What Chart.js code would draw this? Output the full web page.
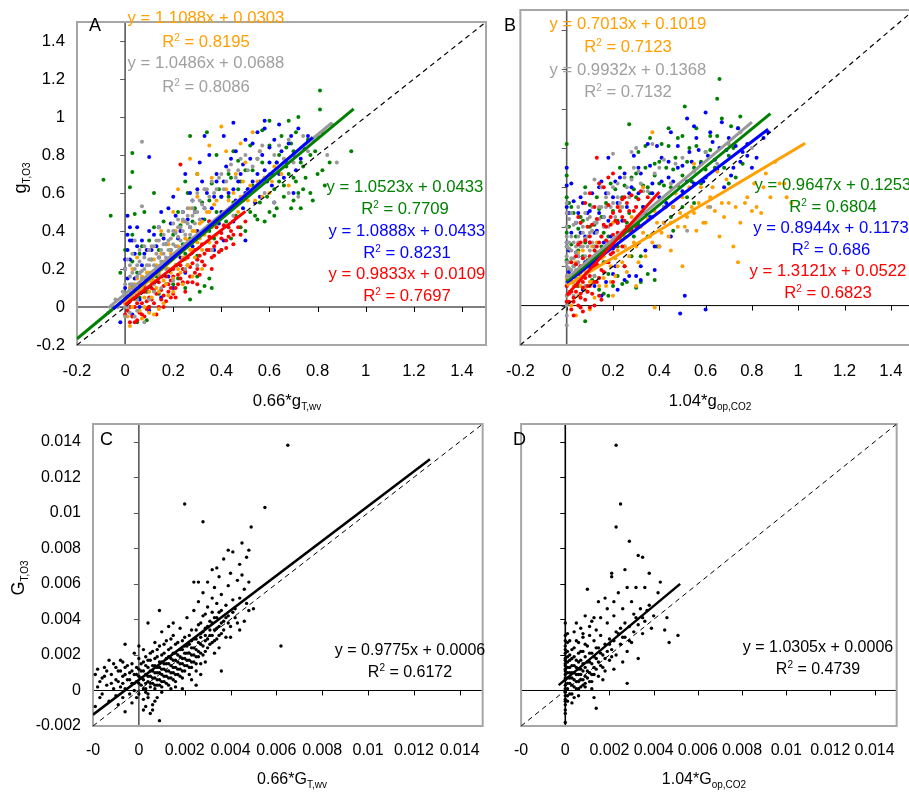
<!DOCTYPE html>
<html>
<head>
<meta charset="utf-8">
<script src="https://cdn.jsdelivr.net/npm/chart.js@4.4.1/dist/chart.umd.min.js"></script>
<style>
  body { margin: 0; width: 909px; height: 792px; overflow: hidden; background: #fff; position: relative;
         font-family: "Liberation Sans", Arial, sans-serif; color: #000; }
  canvas { position: absolute; }
  .t { position: absolute; white-space: nowrap; line-height: 16px; transform: translateX(-50%); }
  .big { font-size: 16.7px; }
  .small { font-size: 16px; }
  .lab { position: absolute; font-size: 18px; line-height: 18px; }
  .yt { position: absolute; white-space: nowrap; font-size: 18px; line-height: 18px; transform: translate(-50%, -50%) rotate(-90deg); }
  sub { font-size: 10px; vertical-align: -4px; line-height: 0; }
  sup { font-size: 10px; vertical-align: 6px; line-height: 0; }
  .or { color: #ffa000; } .gr { color: #a0a0a0; } .gn { color: #008000; } .bl { color: #0000ff; } .rd { color: #ff0000; }
</style>
</head>
<body>
<canvas id="chartA" width="490" height="420" style="left:0;top:0"></canvas>
<canvas id="chartB" width="430" height="420" style="left:490px;top:0"></canvas>
<canvas id="chartC" width="495" height="392" style="left:0;top:400px"></canvas>
<canvas id="chartD" width="410" height="392" style="left:499px;top:400px"></canvas>

<!-- panel letters -->
<div class="lab" style="left:89px;top:16px">A</div>
<div class="lab" style="left:504px;top:16px">B</div>
<div class="lab" style="left:100px;top:430px">C</div>
<div class="lab" style="left:513px;top:430px">D</div>

<!-- panel A equations -->
<div class="t big or" style="left:206px;top:10px">y = 1.1088x + 0.0303</div>
<div class="t big or" style="left:206px;top:34px">R<sup>2</sup> = 0.8195</div>
<div class="t big gr" style="left:206px;top:55px">y = 1.0486x + 0.0688</div>
<div class="t big gr" style="left:206px;top:79px">R<sup>2</sup> = 0.8086</div>
<div class="t big gn" style="left:405px;top:179px">y = 1.0523x + 0.0433</div>
<div class="t big gn" style="left:405px;top:201px">R<sup>2</sup> = 0.7709</div>
<div class="t big bl" style="left:407px;top:223px">y = 1.0888x + 0.0433</div>
<div class="t big bl" style="left:407px;top:245px">R<sup>2</sup> = 0.8231</div>
<div class="t big rd" style="left:407px;top:266px">y = 0.9833x + 0.0109</div>
<div class="t big rd" style="left:407px;top:288px">R<sup>2</sup> = 0.7697</div>

<!-- panel B equations -->
<div class="t big or" style="left:628px;top:16px">y = 0.7013x + 0.1019</div>
<div class="t big or" style="left:628px;top:39px">R<sup>2</sup> = 0.7123</div>
<div class="t big gr" style="left:628px;top:62px">y = 0.9932x + 0.1368</div>
<div class="t big gr" style="left:628px;top:84px">R<sup>2</sup> = 0.7132</div>
<div class="t big gn" style="left:833px;top:177px">y = 0.9647x + 0.1253</div>
<div class="t big gn" style="left:833px;top:199px">R<sup>2</sup> = 0.6804</div>
<div class="t big bl" style="left:831px;top:220px">y = 0.8944x + 0.1173</div>
<div class="t big bl" style="left:831px;top:242px">R<sup>2</sup> = 0.686</div>
<div class="t big rd" style="left:828px;top:263px">y = 1.3121x + 0.0522</div>
<div class="t big rd" style="left:828px;top:285px">R<sup>2</sup> = 0.6823</div>

<!-- panel C / D equations -->
<div class="t small" style="left:410px;top:642px">y = 0.9775x + 0.0006</div>
<div class="t small" style="left:410px;top:664px">R<sup>2</sup> = 0.6172</div>
<div class="t small" style="left:818px;top:639px">y = 1.0305x + 0.0006</div>
<div class="t small" style="left:818px;top:661px">R<sup>2</sup> = 0.4739</div>

<!-- axis titles -->
<div class="t big" style="left:287px;top:393px">0.66*g<sub>T,wv</sub></div>
<div class="t big" style="left:710px;top:393px">1.04*g<sub>op,CO2</sub></div>
<div class="t small" style="left:292px;top:771px">0.66*G<sub>T,wv</sub></div>
<div class="t small" style="left:704px;top:771px">1.04*G<sub>op,CO2</sub></div>
<div class="yt" style="left:20px;top:178px">g<sub>T,O3</sub></div>
<div class="yt" style="left:18px;top:578px">G<sub>T,O3</sub></div>

<script>
// ---- tick values / labels ----
const abTicks = [-0.2, 0, 0.2, 0.4, 0.6, 0.8, 1, 1.2, 1.4];
const abTickLabels = ["-0.2", "0", "0.2", "0.4", "0.6", "0.8", "1", "1.2", "1.4"];
const cdTicks = [-0.002, 0, 0.002, 0.004, 0.006, 0.008, 0.01, 0.012, 0.014];
const cdXTickLabels = ["-0", "0", "0.002", "0.004", "0.006", "0.008", "0.01", "0.012", "0.014"];
const cdYTickLabels = ["-0.002", "0", "0.002", "0.004", "0.006", "0.008", "0.01", "0.012", "0.014"];

// ---- panel A points (0.66*gT,wv , gT,O3) ----
const aGreen = [[-0.09,0.67],[-0.06,0.48],[0.03,0.81],[0.03,0.71],[0.02,0.63],[0.04,0.49],[0.03,0.38],[0.06,0.28],[0.08,0.15],[0.1,0.35],[0.12,0.42],[0.14,0.3],[0.16,0.45],[0.18,0.25],[0.2,0.38],[0.22,0.5],[0.24,0.33],[0.26,0.6],[0.27,0.9],[0.28,0.45],[0.3,0.27],[0.32,0.55],[0.34,0.92],[0.35,0.4],[0.36,0.65],[0.38,0.5],[0.4,0.58],[0.42,0.45],[0.43,0.7],[0.45,0.55],[0.47,0.62],[0.48,0.42],[0.5,0.72],[0.52,0.5],[0.53,0.64],[0.55,0.78],[0.56,0.55],[0.58,0.68],[0.6,0.85],[0.6,0.5],[0.62,0.62],[0.63,0.76],[0.65,0.9],[0.66,0.58],[0.68,0.7],[0.7,0.82],[0.72,1.0],[0.72,0.6],[0.74,0.74],[0.76,0.88],[0.78,0.56],[0.8,0.7],[0.81,1.14],[0.81,1.04],[0.83,0.64],[0.94,0.82],[0.05,-0.08],[0.1,0.0],[0.14,0.07],[0.2,0.12],[0.25,0.1],[0.3,0.16],[0.33,0.11],[0.36,0.1],[0.4,0.3],[0.44,0.36],[0.5,0.4],[0.55,0.46],[0.58,0.45],[0.62,0.48],[0.69,0.52],[0.52,0.85],[0.45,0.82],[0.38,0.8],[0.3,0.7],[0.25,0.66],[0.12,0.6],[0.08,0.5],[0.0,0.3],[-0.02,0.18],[0.02,0.1],[0.06,0.05],[0.71,0.92],[0.77,0.8],[0.67,0.84],[0.57,0.93],[0.47,0.77],[0.73,0.52],[0.85,0.76],[0.18,0.2],[0.22,0.15],[0.26,0.22],[0.64,0.66],[0.7,0.68],
  [0.01,0.05],[0.03,0.24],[0.05,0.18],[0.07,0.32],[0.09,0.08],[0.11,0.25],[0.13,0.16],[0.15,0.38],[0.17,0.12],[0.19,0.3],[0.21,0.22],[0.23,0.43],[0.25,0.28],[0.27,0.36],[0.29,0.52],[0.31,0.38],[0.33,0.46],[0.35,0.56],[0.37,0.36],[0.39,0.62],[0.41,0.5],[0.43,0.58],[0.44,0.68],[0.46,0.48],[0.48,0.66],[0.49,0.56],[0.51,0.62],[0.53,0.72],[0.54,0.48],[0.56,0.66],[0.57,0.76],[0.59,0.58],[0.61,0.7],[0.63,0.52],[0.64,0.8],[0.66,0.64],[0.67,0.74],[0.69,0.86],[0.71,0.66],[0.73,0.76],[0.75,0.68],[0.77,0.6],[0.79,0.82],[0.82,0.72],[0.6,0.98],[0.68,0.98],[0.7,0.56],[0.74,0.62],[0.35,0.15],[0.31,0.08],[0.27,0.04],[0.09,-0.07]];
const aBlue = [[-0.02,-0.08],[0.0,0.2],[0.01,0.48],[0.02,0.25],[0.03,0.35],[0.04,0.15],[0.05,0.42],[0.07,0.22],[0.09,0.3],[0.1,0.79],[0.11,0.15],[0.12,0.38],[0.14,0.26],[0.15,0.5],[0.17,0.33],[0.19,0.44],[0.2,0.58],[0.22,0.36],[0.24,0.5],[0.25,0.7],[0.27,0.42],[0.28,0.56],[0.3,0.62],[0.31,0.76],[0.32,0.46],[0.34,0.6],[0.35,0.8],[0.36,0.52],[0.38,0.66],[0.39,0.44],[0.4,0.58],[0.42,0.74],[0.43,0.5],[0.45,0.62],[0.46,0.82],[0.48,0.7],[0.49,0.52],[0.5,0.6],[0.52,0.78],[0.53,0.66],[0.55,0.92],[0.56,0.58],[0.58,0.72],[0.58,0.94],[0.6,0.84],[0.61,0.64],[0.63,0.76],[0.64,0.96],[0.66,0.68],[0.68,0.86],[0.7,0.8],[0.7,0.6],[0.72,0.94],[0.74,0.84],[0.76,0.9],[0.5,0.35],[0.45,0.45],[0.41,0.35],[0.37,0.3],[0.3,0.25],[0.25,0.18],[0.2,0.1],[0.15,0.05],[0.1,-0.02],[0.06,0.04],[0.33,0.9],[0.45,0.97],[0.58,0.98],[0.62,0.55],[0.08,0.1],[0.13,0.2],[0.18,0.16],[0.23,0.26],[0.28,0.32],[0.01,0.3],[0.0,0.1],
  [0.0,0.25],[0.01,0.15],[0.02,0.35],[0.03,0.05],[0.04,0.28],[0.06,0.18],[0.07,0.35],[0.08,0.28],[0.1,0.4],[0.11,0.3],[0.13,0.32],[0.14,0.42],[0.16,0.36],[0.18,0.52],[0.19,0.26],[0.21,0.48],[0.23,0.4],[0.24,0.3],[0.26,0.46],[0.27,0.6],[0.29,0.5],[0.3,0.4],[0.32,0.66],[0.33,0.52],[0.35,0.45],[0.37,0.58],[0.38,0.7],[0.4,0.5],[0.41,0.66],[0.43,0.6],[0.44,0.78],[0.46,0.56],[0.47,0.66],[0.49,0.75],[0.51,0.62],[0.53,0.86],[0.54,0.55],[0.55,0.7],[0.57,0.8],[0.59,0.66],[0.6,0.76],[0.62,0.88],[0.64,0.7],[0.65,0.82],[0.67,0.76],[0.69,0.9],[0.71,0.72],[0.73,0.78],[0.5,0.88],[0.41,0.9],[0.02,0.42],[0.01,0.38],[0.05,0.32],[0.03,-0.04],[0.06,0.0]];
const aRed = [[0.01,-0.02],[0.02,0.03],[0.03,-0.05],[0.04,0.0],[0.05,0.06],[0.06,-0.03],[0.07,0.02],[0.08,0.08],[0.09,-0.01],[0.1,0.05],[0.11,0.1],[0.12,0.02],[0.13,0.07],[0.14,0.13],[0.15,0.04],[0.16,0.11],[0.17,0.16],[0.18,0.08],[0.19,0.14],[0.2,0.2],[0.21,0.1],[0.22,0.17],[0.23,0.22],[0.24,0.13],[0.25,0.19],[0.26,0.26],[0.27,0.16],[0.28,0.23],[0.29,0.3],[0.3,0.2],[0.31,0.27],[0.32,0.33],[0.33,0.22],[0.34,0.3],[0.35,0.37],[0.36,0.26],[0.37,0.32],[0.38,0.42],[0.39,0.29],[0.4,0.36],[0.41,0.43],[0.42,0.35],[0.43,0.37],[0.44,0.4],[0.46,0.47],[0.48,0.38],[0.23,0.75],[0.13,-0.04],[0.05,-0.07],[0.09,0.14],[0.15,0.2],[0.19,0.05],[0.2,0.07],[0.22,0.12],[0.03,0.1],[0.0,0.02],[0.02,-0.08],[0.08,-0.05],[0.12,0.17],[0.17,0.03],[0.22,0.28],[0.3,0.12],[0.36,0.2],[0.45,0.33],[0.4,0.3],[0.35,0.45],[0.06,0.12],
  [0.02,0.0],[0.03,0.05],[0.05,0.02],[0.06,0.08],[0.07,-0.04],[0.08,0.11],[0.1,0.0],[0.11,0.04],[0.12,0.09],[0.14,0.0],[0.15,0.09],[0.16,0.06],[0.18,0.12],[0.2,0.16],[0.21,0.05],[0.23,0.15],[0.24,0.2],[0.26,0.13],[0.27,0.21],[0.29,0.18],[0.3,0.25],[0.32,0.24],[0.33,0.28],[0.35,0.3],[0.37,0.27],[0.38,0.34],[0.4,0.39],[0.42,0.31],[0.43,0.42],[0.45,0.38],[0.47,0.42],[0.5,0.45],[0.16,0.0],[0.19,0.1],[0.25,0.08],[0.28,0.13],[0.31,0.17],[0.04,-0.08],[0.09,0.03],[0.0,-0.04]];
const aOrange = [[0.0,0.02],[0.01,-0.05],[0.02,0.1],[0.03,0.2],[0.04,0.04],[0.05,0.15],[0.06,-0.02],[0.07,0.1],[0.08,0.05],[0.09,0.18],[0.1,0.08],[0.11,0.13],[0.12,0.25],[0.13,0.1],[0.14,0.18],[0.15,0.28],[0.16,0.14],[0.17,0.22],[0.18,0.33],[0.19,0.18],[0.2,0.26],[0.21,0.4],[0.22,0.2],[0.23,0.3],[0.24,0.45],[0.25,0.25],[0.26,0.35],[0.27,0.52],[0.28,0.3],[0.29,0.4],[0.3,0.58],[0.31,0.36],[0.32,0.45],[0.33,0.62],[0.34,0.4],[0.35,0.5],[0.36,0.68],[0.37,0.44],[0.38,0.56],[0.4,0.95],[0.4,0.48],[0.42,0.62],[0.44,0.52],[0.46,0.7],[0.48,0.58],[0.5,0.76],[0.52,0.64],[0.53,0.92],[0.54,0.56],[0.56,0.82],[0.58,0.68],[0.6,0.6],[0.62,0.74],[0.65,0.7],[0.27,0.78],[0.22,0.62],[0.35,0.85],[0.15,0.4],[0.1,0.3],[0.05,0.26],[0.12,-0.04],[0.16,0.02],[0.2,0.08],[0.24,0.12],[0.28,0.16],[0.32,0.2],[0.36,0.3],[0.02,-0.1],
  [0.01,0.05],[0.03,0.0],[0.04,0.12],[0.06,0.08],[0.07,0.16],[0.08,0.0],[0.09,0.1],[0.1,0.18],[0.11,0.05],[0.12,0.14],[0.13,0.22],[0.14,0.08],[0.15,0.16],[0.16,0.24],[0.17,0.12],[0.18,0.2],[0.19,0.28],[0.2,0.15],[0.21,0.22],[0.22,0.32],[0.23,0.18],[0.24,0.26],[0.25,0.36],[0.26,0.22],[0.27,0.3],[0.28,0.4],[0.29,0.26],[0.3,0.34],[0.31,0.44],[0.32,0.3],[0.33,0.38],[0.34,0.5],[0.35,0.34],[0.36,0.42],[0.37,0.54],[0.38,0.38],[0.39,0.46],[0.41,0.5],[0.43,0.56],[0.45,0.6],[0.47,0.5],[0.49,0.66],[0.51,0.56],[0.55,0.66],[0.57,0.58],[0.61,0.66],[0.66,0.78],[0.68,0.64],[0.3,0.7],[0.2,0.5],[0.42,0.82],[0.48,0.86],[0.07,-0.06],[0.1,-0.03],[0.14,-0.01],[0.18,0.06]];
const aGray = [[-0.07,-0.03],[-0.05,0.0],[-0.04,0.04],[-0.02,0.02],[-0.01,0.08],[0.0,0.05],[0.0,0.12],[0.01,0.0],[0.02,0.08],[0.02,0.16],[0.03,0.05],[0.03,0.12],[0.04,0.2],[0.05,0.1],[0.05,0.16],[0.06,0.24],[0.07,0.12],[0.07,0.19],[0.08,0.26],[0.09,0.15],[0.09,0.22],[0.1,0.3],[0.11,0.18],[0.11,0.25],[0.12,0.32],[0.13,0.2],[0.13,0.28],[0.14,0.35],[0.15,0.24],[0.15,0.3],[0.16,0.38],[0.17,0.26],[0.17,0.33],[0.18,0.4],[0.19,0.3],[0.19,0.36],[0.2,0.44],[0.21,0.32],[0.21,0.39],[0.22,0.46],[0.23,0.35],[0.23,0.42],[0.24,0.5],[0.25,0.38],[0.25,0.45],[0.26,0.52],[0.27,0.42],[0.28,0.48],[0.28,0.56],[0.3,0.5],[0.3,0.6],[0.32,0.54],[0.33,0.62],[0.35,0.58],[0.36,0.66],[0.38,0.62],[0.4,0.7],[0.42,0.66],[0.44,0.75],[0.47,0.72],[0.5,0.8],[0.53,0.74],[0.56,0.82],[0.6,0.7],[0.64,0.85],[0.7,0.76],[0.74,0.9],[0.78,0.88],[0.82,0.92],[0.86,0.96],[0.84,0.8],[0.88,0.76],[0.07,0.87],[0.07,0.53],[0.36,0.3],[0.3,0.22],[0.25,0.2],[0.2,0.14],[0.15,0.1],[0.1,0.04],[0.05,-0.02],[0.08,-0.08],[0.04,-0.05],[0.12,0.08],[0.62,0.55],[0.68,0.6],[0.72,0.58],[0.58,0.6],[0.45,0.48],[0.06,0.18],[0.1,0.22],[0.14,0.26],
  [0.0,0.0],[0.01,0.06],[0.02,0.12],[0.03,0.18],[0.04,0.1],[0.05,0.22],[0.06,0.08],[0.07,0.15],[0.08,0.2],[0.08,0.32],[0.09,0.1],[0.1,0.17],[0.1,0.25],[0.11,0.32],[0.12,0.12],[0.12,0.22],[0.13,0.35],[0.14,0.17],[0.14,0.42],[0.15,0.2],[0.16,0.28],[0.16,0.33],[0.17,0.2],[0.18,0.3],[0.18,0.35],[0.19,0.25],[0.2,0.33],[0.2,0.4],[0.21,0.27],[0.22,0.37],[0.22,0.42],[0.23,0.3],[0.24,0.4],[0.24,0.46],[0.25,0.33],[0.26,0.44],[0.26,0.48],[0.27,0.38],[0.28,0.52],[0.29,0.44],[0.29,0.5],[0.31,0.56],[0.31,0.46],[0.33,0.52],[0.34,0.62],[0.37,0.6],[0.39,0.68],[0.41,0.62],[0.43,0.72],[0.46,0.68],[0.48,0.78],[0.51,0.72],[0.55,0.78],[0.57,0.85],[0.62,0.8],[0.66,0.78],[0.68,0.88],[0.76,0.82],[0.8,0.9],[-0.03,0.0],[-0.06,-0.02],[0.0,0.2],[0.01,0.25],[0.03,0.28],[0.0,-0.05],[0.02,-0.03],[0.05,0.04],[0.06,0.3],[0.04,0.35],[0.02,0.22]];

// ---- panel B points (1.04*gop,CO2 , gT,O3) ----
const bGreen = [[0.0,0.82],[0.0,0.55],[0.01,0.4],[0.0,0.3],[0.02,0.5],[0.03,0.2],[0.04,0.35],[0.05,0.1],[0.06,0.45],[0.07,0.25],[0.08,0.6],[0.1,0.18],[0.1,0.4],[0.12,0.3],[0.13,0.55],[0.14,0.08],[0.15,0.45],[0.16,0.22],[0.18,0.35],[0.19,0.62],[0.2,0.1],[0.2,0.48],[0.22,0.3],[0.23,0.7],[0.24,0.55],[0.25,0.2],[0.26,0.42],[0.27,0.92],[0.28,0.65],[0.29,0.35],[0.3,0.55],[0.31,0.78],[0.32,0.25],[0.33,0.5],[0.34,0.7],[0.35,0.6],[0.36,0.85],[0.37,0.45],[0.38,0.72],[0.39,0.3],[0.4,0.62],[0.41,0.82],[0.42,0.5],[0.43,0.7],[0.44,0.9],[0.45,0.6],[0.46,0.38],[0.47,0.75],[0.48,0.85],[0.5,0.66],[0.51,1.01],[0.52,0.55],[0.53,0.8],[0.55,0.7],[0.56,0.9],[0.58,0.62],[0.6,0.78],[0.62,0.86],[0.64,0.7],[0.65,1.05],[0.66,1.15],[0.67,0.95],[0.7,0.62],[0.72,0.8],[0.74,0.9],[0.76,0.72],[0.08,-0.08],[0.12,0.15],[0.18,0.05],[0.26,0.12],[0.32,0.12],[0.35,0.35],[0.28,0.25],[0.22,0.15],[0.15,0.3],[0.05,0.28],[0.02,0.15],[0.45,0.45],[0.5,0.5],[0.55,0.52],[0.68,0.7],[0.73,0.65],
  [0.0,0.23],[0.0,0.37],[0.0,0.66],[0.01,0.13],[0.01,0.52],[0.02,0.31],[0.03,0.47],[0.04,0.21],[0.05,0.39],[0.06,0.17],[0.07,0.43],[0.08,0.32],[0.09,0.23],[0.1,0.51],[0.11,0.13],[0.12,0.41],[0.13,0.27],[0.14,0.49],[0.16,0.37],[0.17,0.52],[0.18,0.16],[0.2,0.31],[0.21,0.59],[0.22,0.43],[0.24,0.37],[0.25,0.61],[0.27,0.47],[0.29,0.59],[0.3,0.67],[0.31,0.41],[0.33,0.61],[0.34,0.81],[0.36,0.57],[0.38,0.66],[0.4,0.73],[0.42,0.61],[0.44,0.81],[0.46,0.69],[0.48,0.61],[0.5,0.86],[0.52,0.73],[0.54,0.63],[0.56,0.81],[0.58,0.73],[0.6,0.69],[0.62,0.79],[0.65,0.86],[0.7,0.76],[0.71,0.91],[0.75,0.96],[0.35,0.16],[0.38,0.13],[0.3,0.09],[0.24,0.11],[0.16,0.06]];
const bBlue = [[0.0,0.5],[0.0,0.7],[0.01,0.28],[0.02,0.62],[0.03,0.15],[0.04,0.42],[0.05,0.25],[0.06,0.55],[0.07,0.08],[0.08,0.35],[0.1,0.2],[0.1,0.48],[0.12,0.1],[0.13,0.38],[0.14,0.6],[0.15,0.25],[0.16,0.45],[0.17,0.12],[0.18,0.75],[0.19,0.35],[0.2,0.55],[0.21,0.2],[0.22,0.42],[0.23,0.65],[0.25,0.3],[0.26,0.5],[0.27,0.15],[0.28,0.6],[0.3,0.4],[0.31,0.7],[0.32,0.2],[0.33,0.5],[0.35,0.82],[0.36,0.45],[0.37,0.62],[0.38,0.3],[0.4,0.55],[0.41,0.75],[0.42,0.42],[0.44,0.65],[0.45,0.88],[0.46,0.5],[0.48,0.7],[0.49,-0.04],[0.5,0.58],[0.51,0.05],[0.52,0.95],[0.53,0.78],[0.55,0.62],[0.56,0.85],[0.58,0.72],[0.6,-0.02],[0.6,0.65],[0.62,0.88],[0.64,0.74],[0.66,0.8],[0.68,0.6],[0.7,0.85],[0.72,0.7],[0.74,0.9],[0.76,0.78],[0.78,0.82],[0.8,0.7],[0.82,0.75],[0.85,0.85],[0.87,0.88],[0.6,0.98],[0.45,0.35],[0.38,0.18],[0.3,0.15],[0.22,0.08],[0.15,0.05],[0.34,0.28],[0.4,0.3],
  [0.0,0.32],[0.0,0.61],[0.01,0.17],[0.01,0.47],[0.02,0.37],[0.03,0.53],[0.04,0.27],[0.05,0.47],[0.06,0.37],[0.07,0.52],[0.08,0.22],[0.09,0.47],[0.1,0.32],[0.11,0.57],[0.12,0.37],[0.13,0.23],[0.14,0.47],[0.15,0.63],[0.16,0.32],[0.17,0.57],[0.18,0.43],[0.2,0.29],[0.21,0.63],[0.22,0.52],[0.24,0.43],[0.25,0.67],[0.27,0.57],[0.28,0.39],[0.29,0.76],[0.31,0.57],[0.32,0.67],[0.34,0.47],[0.36,0.71],[0.37,0.57],[0.39,0.81],[0.41,0.63],[0.43,0.52],[0.44,0.73],[0.46,0.63],[0.48,0.81],[0.5,0.71],[0.52,0.63],[0.54,0.73],[0.55,0.91],[0.57,0.79],[0.59,0.63],[0.61,0.76],[0.63,0.83],[0.65,0.69],[0.67,0.93],[0.69,0.79],[0.71,0.66],[0.73,0.81],[0.75,0.73],[0.78,0.76],[0.25,0.13],[0.32,0.13],[0.2,0.16]];
const bRed = [[0.0,0.02],[0.01,0.06],[0.02,-0.02],[0.02,0.12],[0.03,0.04],[0.04,0.1],[0.05,0.0],[0.05,0.16],[0.06,0.06],[0.07,0.12],[0.08,0.2],[0.08,0.03],[0.09,0.1],[0.1,0.25],[0.1,0.15],[0.11,0.06],[0.12,0.2],[0.13,0.3],[0.13,0.12],[0.14,0.24],[0.15,0.35],[0.15,0.18],[0.16,0.28],[0.17,0.4],[0.17,0.22],[0.18,0.32],[0.19,0.45],[0.19,0.26],[0.2,0.36],[0.21,0.3],[0.22,0.42],[0.22,0.5],[0.23,0.35],[0.24,0.45],[0.25,0.55],[0.26,0.4],[0.27,0.48],[0.28,0.56],[0.3,0.5],[0.32,0.58],[0.35,0.55],[0.04,0.25],[0.06,0.32],[0.09,0.4],[0.12,0.5],[0.16,0.6],[0.13,0.75],[0.18,0.65],[0.25,0.2],[0.2,0.12],[0.14,0.05],[0.03,-0.05],[0.07,-0.03],[0.12,0.0],[0.06,0.2],[0.24,0.3],[0.3,0.4],[0.05,0.45],[0.1,0.35],[0.28,0.38],
  [0.0,0.1],[0.01,0.02],[0.01,0.14],[0.02,0.07],[0.02,0.22],[0.03,0.02],[0.03,0.16],[0.04,0.07],[0.04,0.21],[0.05,0.12],[0.05,0.31],[0.06,0.04],[0.06,0.17],[0.07,0.09],[0.07,0.24],[0.08,0.14],[0.08,0.33],[0.09,0.07],[0.09,0.21],[0.1,0.1],[0.1,0.32],[0.11,0.22],[0.11,0.41],[0.12,0.12],[0.12,0.28],[0.13,0.21],[0.13,0.44],[0.14,0.32],[0.14,0.14],[0.15,0.27],[0.16,0.41],[0.16,0.17],[0.17,0.33],[0.18,0.51],[0.18,0.22],[0.19,0.41],[0.2,0.27],[0.2,0.47],[0.21,0.43],[0.22,0.37],[0.23,0.48],[0.24,0.54],[0.25,0.43],[0.26,0.52],[0.27,0.38],[0.29,0.48],[0.31,0.54],[0.33,0.47],[0.06,0.42],[0.08,0.52],[0.1,0.57],[0.14,0.62],[0.2,0.67],[0.06,-0.01],[0.1,-0.01],[0.15,0.03]];
const bOrange = [[0.0,0.05],[0.01,0.15],[0.02,0.0],[0.03,0.1],[0.04,0.22],[0.05,0.05],[0.06,0.15],[0.07,0.28],[0.08,0.08],[0.09,0.2],[0.1,0.12],[0.11,0.3],[0.12,0.04],[0.13,0.2],[0.14,0.14],[0.15,0.35],[0.16,0.25],[0.17,0.1],[0.18,0.3],[0.19,0.2],[0.2,0.42],[0.21,0.15],[0.22,0.28],[0.23,0.5],[0.24,0.22],[0.25,0.35],[0.27,0.25],[0.28,0.45],[0.3,0.3],[0.32,0.4],[0.33,0.6],[0.34,0.25],[0.36,0.35],[0.37,0.88],[0.38,-0.01],[0.38,0.48],[0.4,0.3],[0.42,0.42],[0.44,0.35],[0.46,0.5],[0.48,0.4],[0.5,0.55],[0.52,0.45],[0.54,0.5],[0.56,0.38],[0.58,0.6],[0.6,0.42],[0.62,0.55],[0.64,0.48],[0.66,0.35],[0.68,0.45],[0.7,0.52],[0.72,0.3],[0.74,0.22],[0.75,0.42],[0.78,0.55],[0.8,0.48],[0.82,0.5],[0.85,0.6],[0.88,0.55],[0.9,0.73],[0.92,0.62],[0.95,0.55],[0.97,0.52],[0.65,0.68],[0.55,0.72],[0.45,0.28],[0.5,0.2],[0.3,0.1],[0.2,0.05],[0.1,-0.02],[0.04,-0.05],
  [0.0,0.14],[0.01,0.07],[0.02,0.22],[0.03,0.04],[0.04,0.14],[0.05,0.27],[0.06,0.1],[0.07,0.2],[0.08,0.17],[0.09,0.07],[0.1,0.24],[0.11,0.12],[0.12,0.2],[0.13,0.32],[0.14,0.1],[0.15,0.24],[0.16,0.14],[0.17,0.3],[0.18,0.22],[0.19,0.12],[0.2,0.32],[0.21,0.24],[0.22,0.2],[0.23,0.34],[0.25,0.3],[0.26,0.17],[0.27,0.4],[0.29,0.32],[0.31,0.22],[0.33,0.37],[0.35,0.44],[0.37,0.32],[0.39,0.42],[0.41,0.37],[0.43,0.5],[0.45,0.42],[0.47,0.57],[0.49,0.47],[0.51,0.4],[0.53,0.6],[0.55,0.47],[0.57,0.52],[0.59,0.42],[0.61,0.5],[0.63,0.6],[0.67,0.52],[0.69,0.64],[0.73,0.5],[0.77,0.52],[0.81,0.62],[0.84,0.47],[0.86,0.67],[0.94,0.62]];
const bGray = [[0.0,0.0],[0.0,0.05],[0.0,0.1],[0.0,0.15],[0.0,0.2],[0.0,0.25],[0.0,0.3],[0.0,0.35],[0.0,0.4],[0.0,-0.05],[0.0,-0.1],[0.01,0.12],[0.01,0.22],[0.01,0.32],[0.02,0.18],[0.02,0.28],[0.03,0.12],[0.03,0.24],[0.04,0.3],[0.04,0.18],[0.05,0.25],[0.05,0.35],[0.06,0.2],[0.07,0.3],[0.07,0.4],[0.08,0.25],[0.09,0.35],[0.1,0.28],[0.1,0.45],[0.11,0.38],[0.12,0.3],[0.13,0.42],[0.14,0.5],[0.15,0.35],[0.16,0.45],[0.17,0.55],[0.18,0.4],[0.19,0.5],[0.2,0.6],[0.21,0.45],[0.22,0.55],[0.24,0.5],[0.25,0.65],[0.27,0.55],[0.29,0.7],[0.3,0.5],[0.32,0.62],[0.35,0.58],[0.4,0.7],[0.45,0.62],[0.5,0.75],[0.55,0.68],[0.52,0.38],[0.6,0.78],[0.65,0.72],[0.7,0.82],[0.75,0.88],[0.8,0.8],[0.37,0.82],[0.28,0.78],[0.15,0.6],[0.05,0.5],[0.08,0.1],[0.12,0.15],[0.03,0.05],
  [0.0,0.47],[0.0,0.52],[0.0,0.02],[0.0,0.12],[0.0,0.22],[0.0,0.32],[0.01,0.07],[0.01,0.19],[0.01,0.29],[0.01,0.44],[0.02,0.12],[0.02,0.24],[0.02,0.35],[0.02,0.47],[0.03,0.2],[0.03,0.32],[0.03,0.41],[0.04,0.14],[0.04,0.27],[0.04,0.42],[0.05,0.22],[0.05,0.32],[0.06,0.3],[0.06,0.42],[0.07,0.24],[0.07,0.37],[0.08,0.34],[0.08,0.47],[0.09,0.3],[0.09,0.44],[0.1,0.37],[0.11,0.32],[0.11,0.5],[0.12,0.42],[0.13,0.37],[0.14,0.44],[0.15,0.5],[0.16,0.4],[0.17,0.5],[0.18,0.57],[0.2,0.52],[0.22,0.62],[0.23,0.52],[0.26,0.6],[0.28,0.64],[0.31,0.68],[0.33,0.58],[0.38,0.67],[0.42,0.74],[0.47,0.72],[0.2,0.77],[0.12,0.64],[0.08,0.57],[0.3,0.8],[0.42,0.5],[0.62,0.5]];

// ---- panel C points (0.66*GT,wv , GT,O3) ----
const cPoints = [[-0.0019,-0.0009],[-0.0018,0.0012],[-0.0017,0.0005],[-0.0016,-0.0002],[-0.0015,0.0013],[-0.0014,0.0003],[-0.0013,-0.0006],[-0.0012,0.0009],[-0.0011,0.0001],[-0.0011,0.0015],[-0.001,-0.0003],[-0.001,0.0006],[-0.0009,0.0011],[-0.0009,-0.0008],[-0.0008,0.0002],[-0.0008,0.0017],[-0.0007,0.0008],[-0.0007,-0.0004],[-0.0006,0.0013],[-0.0006,0.0001],[-0.0006,0.0026],[-0.0006,-0.0012],[-0.0005,0.0006],[-0.0004,0.001],[-0.0004,-0.0002],[-0.0003,0.0015],[-0.0003,0.0004],[-0.0003,-0.0007],[-0.0002,0.0021],[-0.0002,0.0009],[-0.0002,0.0],[-0.0001,0.0013],[-0.0001,0.0005],[-0.0001,-0.0004],[0.0,0.0018],[0.0,0.0008],[0.0,-0.0002],[-0.0013,0.0017],[-0.0017,-0.0004],[-0.0007,0.0004],[-0.0015,0.0008],
  [0.0001,0.0003],[0.0001,0.0011],[0.0002,-0.0005],[0.0002,0.0006],[0.0002,0.0016],[0.0003,0.0001],[0.0003,0.0009],[0.0003,0.0019],[0.0004,-0.0002],[0.0004,0.0005],[0.0004,0.0013],[0.0005,0.0002],[0.0005,0.0008],[0.0005,0.0017],[0.0006,-0.0008],[0.0006,0.0004],[0.0006,0.0011],[0.0006,0.0022],[0.0007,0.0001],[0.0007,0.0007],[0.0007,0.0014],[0.0008,0.0003],[0.0008,0.001],[0.0008,0.0019],[0.0008,-0.0004],[0.0009,0.0006],[0.0009,0.0013],[0.0009,0.0025],[0.001,0.0002],[0.001,0.0009],[0.001,0.0016],[0.0011,0.0005],[0.0011,0.0012],[0.0011,0.0021],[0.0012,0.0008],[0.0012,0.0015],[0.0012,0.0028],[0.0013,0.0003],[0.0013,0.0011],[0.0013,0.0019],[0.0014,0.0007],[0.0014,0.0014],[0.0014,0.0024],[0.0015,0.001],[0.0015,0.0017],[0.0015,0.0031],[0.0016,0.0005],[0.0016,0.0013],[0.0016,0.0021],[0.0017,0.0009],[0.0017,0.0016],[0.0017,0.0027],[0.0018,0.0012],[0.0018,0.0019],[0.0018,0.0035],[0.0019,0.0007],[0.0019,0.0015],[0.0019,0.0023],[0.002,0.0011],[0.002,0.0018],[0.002,0.003],[0.0021,0.0014],[0.0021,0.0021],[0.0021,0.0041],[0.0022,0.0009],[0.0022,0.0017],[0.0022,0.0026],[0.0023,0.0013],[0.0023,0.002],[0.0023,0.0034],[0.0024,0.0016],[0.0024,0.0024],[0.0024,0.0045],[0.0025,0.0011],[0.0025,0.0019],[0.0025,0.0029],[0.0026,0.0022],[0.0026,0.0037],[0.0026,0.005],[0.0027,0.0015],[0.0027,0.0026],[0.0027,0.0032],[0.0028,0.002],[0.0028,0.0042],[0.0028,0.0055],[0.0029,0.0028],[0.0029,0.0035],[0.003,0.0024],[0.003,0.0047],[0.003,0.0061],[0.0031,0.0031],[0.0031,0.0039],[0.0032,0.0027],[0.0032,0.0044],[0.0032,0.0052],[0.0033,0.0034],[0.0033,0.0058],[0.0034,0.0029],[0.0034,0.0041],[0.0034,0.0049],[0.0035,0.0036],[0.0035,0.0064],[0.0036,0.0032],[0.0036,0.0045],[0.0036,0.0054],[0.0037,0.0039],[0.0037,0.0074],[0.0038,0.003],[0.0038,0.0048],[0.0039,0.0059],[0.0039,0.0042],[0.004,0.0066],[0.004,0.0036],[0.0041,0.0051],[0.0041,0.0078],[0.0042,0.0046],[0.0043,0.0062],[0.0043,0.0038],[0.0044,0.0071],[0.0044,0.0052],[0.0045,0.0083],[0.0045,0.0065],[0.0046,0.0057],[0.0046,0.0039],[0.0047,0.0075],[0.0047,0.0049],[0.0048,0.0061],[0.0048,0.0079],[0.005,0.0046],[0.0049,0.0092],[0.0055,0.0103],[0.0065,0.0138],[0.002,0.0105],[0.0028,0.0095],[0.0062,0.0025],[0.0036,0.0011],[0.0004,0.0038],[0.0009,0.0045],[0.0009,-0.0017],[0.0005,-0.0013],[0.0002,-0.0011],[0.0007,-0.0006],[0.0003,-0.0001],[0.0014,0.0001],[0.001,-0.0001],[0.0016,0.0002],[0.0019,0.0001],[0.0025,0.0003],[0.0033,0.0021],[0.0029,0.0016],[0.0023,0.0006],[0.0027,0.0009],[0.0035,0.0024],[0.004,0.003],[0.0044,0.0034],[0.0048,0.0045],[0.0024,0.0061],[0.0026,0.0061],[0.0032,0.0068],[0.0034,0.0069],[0.0039,0.0079],
  [0.0001,0.0007],[0.0001,0.0015],[0.0002,0.0001],[0.0002,0.0011],[0.0003,0.0004],[0.0003,0.0014],[0.0004,0.0008],[0.0004,0.0017],[0.0005,0.0004],[0.0005,0.0011],[0.0005,0.0021],[0.0006,0.0007],[0.0006,0.0014],[0.0007,0.0003],[0.0007,0.001],[0.0007,0.0018],[0.0008,0.0006],[0.0008,0.0013],[0.0008,0.0023],[0.0009,0.0003],[0.0009,0.001],[0.0009,0.0016],[0.001,0.0005],[0.001,0.0012],[0.001,0.002],[0.0011,0.0008],[0.0011,0.0015],[0.0011,0.0026],[0.0012,0.0004],[0.0012,0.0011],[0.0012,0.0018],[0.0013,0.0007],[0.0013,0.0015],[0.0013,0.0023],[0.0014,0.001],[0.0014,0.0018],[0.0014,0.0029],[0.0015,0.0006],[0.0015,0.0013],[0.0015,0.0021],[0.0016,0.0009],[0.0016,0.0017],[0.0016,0.0026],[0.0017,0.0012],[0.0017,0.002],[0.0018,0.0008],[0.0018,0.0015],[0.0018,0.0023],[0.0019,0.0011],[0.0019,0.0018],[0.0019,0.0028],[0.002,0.0014],[0.002,0.0021],[0.002,0.0025],[0.0021,0.0017],[0.0021,0.0025],[0.0022,0.0013],[0.0022,0.0021],[0.0022,0.0031],[0.0023,0.0016],[0.0023,0.0024],[0.0023,0.0028],[0.0024,0.002],[0.0024,0.0029],[0.0025,0.0015],[0.0025,0.0023],[0.0025,0.0034],[0.0026,0.0019],[0.0026,0.0027],[0.0027,0.0021],[0.0027,0.003],[0.0027,0.0038],[0.0028,0.0025],[0.0028,0.0033],[0.0029,0.0022],[0.0029,0.0031],[0.0029,0.0043],[0.003,0.0029],[0.003,0.0036],[0.0031,0.0026],[0.0031,0.0034],[0.0032,0.0031],[0.0032,0.0038],[0.0033,0.0028],[0.0033,0.0041],[0.0034,0.0035],[0.0035,0.0031],[0.0035,0.0044],[0.0036,0.0038],[0.0037,0.0034],[0.0038,0.0041],[0.0039,0.0038],[0.0041,0.0044],[0.0042,0.0041],[-0.0001,0.0009],[-0.0002,0.0004],[-0.0003,0.0011],[-0.0004,0.0006],[-0.0005,0.0014],[-0.0006,0.0009],[-0.0007,0.0016],[-0.0008,0.0011],[-0.0009,0.0005],[-0.001,0.0013],[-0.0012,0.0004],[-0.0014,0.0011],[-0.0016,0.0007],[-0.0018,0.0002],[-0.0019,0.0009],[0.0,0.0004],[0.0,0.0012],[0.0,0.0025],[0.0003,-0.0009],[0.0006,-0.0011],[0.0004,-0.0004],[0.0002,0.0023],[0.0007,0.0027],[0.001,0.0033],[0.0013,0.0036],[0.0015,0.0038]];

// ---- panel D points (1.04*Gop,CO2 , GT,O3) ----
const dPoints = [[0,-0.0018],[0,-0.0013],[0,-0.0011],[0,-0.0008],[0,-0.0005],[0,-0.0003],[0,0],[0,0.0003],[0,0.0006],[0,0.0009],[0,0.0012],[0,0.0015],[0,0.0018],[0,0.0021],[0,0.0025],[0,0.0031],[0,0.0038],[0.0001,-0.0006],[0.0001,0.0001],[0.0001,0.0007],[0.0001,0.0013],[0.0001,0.0019],[0.0001,0.0027],
  [0.0002,0.0004],[0.0002,0.001],[0.0002,0.0017],[0.0003,-0.0002],[0.0003,0.0007],[0.0003,0.0014],[0.0003,0.0023],[0.0004,0.0002],[0.0004,0.001],[0.0004,0.0019],[0.0005,0.0005],[0.0005,0.0013],[0.0005,0.0028],[0.0006,0.0001],[0.0006,0.0009],[0.0006,0.0016],[0.0007,0.0006],[0.0007,0.0012],[0.0007,0.0022],[0.0008,0.0003],[0.0008,0.0015],[0.0008,0.003],[0.0009,0.0008],[0.0009,0.0019],[0.001,0.0011],[0.001,0.0025],[0.0011,0.0005],[0.0011,0.0016],[0.0012,0.0021],[0.0012,0.0009],[0.0013,0.0028],[0.0013,0.0013],[0.0014,0.0018],[0.0014,0.0034],[0.0015,0.0008],[0.0015,0.0024],[0.0016,0.0014],[0.0016,0.0031],[0.0017,0.002],[0.0018,0.0011],[0.0018,0.0026],[0.0019,0.0038],[0.002,0.0017],[0.002,0.0029],[0.0021,0.0023],[0.0022,0.0042],[0.0023,0.002],[0.0024,0.0032],[0.0025,0.0026],[0.0026,0.0046],[0.0027,0.003],[0.0028,0.0022],[0.0029,0.0036],[0.003,0.0027],[0.003,0.005],[0.0031,0.0033],[0.0032,0.0041],[0.0034,0.0046],[0.0036,0.0039],[0.0038,0.0048],[0.004,0.0042],[0.0042,0.0055],[0.0023,0.0138],[0.0025,0.0105],[0.0023,0.0092],[0.0029,0.0084],[0.0033,0.0076],[0.0035,0.0075],[0.0038,0.0066],[0.0043,0.0061],[0.0021,0.0066],[0.0021,0.0064],[0.0027,0.0068],[0.001,0.0057],[0.0015,0.005],[0.0051,0.0031],[0.0047,0.0027],[0.0045,0.0034],[0.0046,0.0041],[0.0014,-0.001],[0.0013,-0.0004],[0.0028,0.0004],[0.0033,0.0018],[0.0003,-0.0007],[0.0006,-0.0003],[0.0009,0.0002],[0.0012,0.0001],[0.0017,0.0006],[0.0019,0.0046],[0.0016,0.0041],[0.0012,0.0039],[0.0007,0.0035],[0.0024,0.0055],[0.0028,0.0058],[0.0022,0.005],[0.0036,0.0058],[0.0032,0.0058],[0.0018,0.0052],[0.0039,0.0035],[0.0035,0.0032],[0.0026,0.0016],[0.0022,0.0012],[0.0005,0.0038],[0.0004,0.0033],[0.0011,0.0031],
  [0.0001,0.0004],[0.0001,0.001],[0.0001,0.0016],[0.0001,0.0022],[0.0002,0.0007],[0.0002,0.0013],[0.0002,0.002],[0.0002,-0.0002],[0.0003,0.0003],[0.0003,0.001],[0.0003,0.0018],[0.0004,0.0006],[0.0004,0.0014],[0.0004,0.0024],[0.0005,0.0001],[0.0005,0.0009],[0.0005,0.0017],[0.0006,0.0005],[0.0006,0.0012],[0.0006,0.0021],[0.0007,0.0002],[0.0007,0.0009],[0.0007,0.0017],[0.0008,0.0006],[0.0008,0.0011],[0.0008,0.0022],[0.0009,0.0004],[0.0009,0.0013],[0.0009,0.0026],[0.001,0.0007],[0.001,0.0016],[0.0011,0.001],[0.0011,0.0021],[0.0012,0.0005],[0.0012,0.0015],[0.0013,0.0009],[0.0013,0.0019],[0.0014,0.0012],[0.0014,0.0024],[0.0015,0.0016],[0.0016,0.0021],[0.0017,0.0013],[0.0018,0.0018],[0.0019,0.0022],[0.002,0.0026],[0.0021,0.0019],[0.0022,0.0028],[0.0023,0.0033],[0.0025,0.0035],[0.0026,0.003],[0.0027,0.0038],[0.0029,0.0028],[0.0031,0.0043],[0.0033,0.0037],[0.0035,0.0041],[0.0037,0.0045],[0.0,0.0001],[0.0,0.0007],[0.0,0.0011],[0.0,0.0014],[0.0,0.0017],[0.0,0.0023],[0.0,0.0028],[0.0,-0.0001],[0.0,-0.0006],[0.0001,-0.0003],[0.0001,0.0032],[0.0004,-0.0004],[0.0002,0.0028],[0.0006,0.0027],[0.0008,0.0032],[0.0011,0.0036],[0.0013,0.0041],[0.0009,0.0042]];

// ---- fitted lines (end points) and 1:1 lines ----
const aFitOrange = [[0.0,0.030],[0.5,0.585]];
const aFitGray = [[-0.07,-0.005],[0.86,0.970]];
const aFitGreen = [[-0.2,-0.167],[0.95,1.043]];
const aFitBlue = [[-0.05,-0.011],[0.78,0.893]];
const aFitRed = [[0.0,0.011],[0.5,0.503]];
const bFitOrange = [[0.0,0.102],[1.03,0.824]];
const bFitGray = [[0.0,0.137],[0.8,0.931]];
const bFitGreen = [[0.0,0.125],[0.88,0.974]];
const bFitBlue = [[0.0,0.117],[0.87,0.895]];
const bFitRed = [[0.0,0.052],[0.4,0.577]];
const cFit = [[-0.002,-0.00136],[0.0127,0.01301]];
const dFit = [[-0.0003,0.0003],[0.0052,0.0060]];
const abOneToOne = [[-0.2,-0.2],[1.5,1.5]];
const cdOneToOne = [[-0.002,-0.002],[0.015,0.015]];

const COL = { orange: "#ffa000", gray: "#999999", green: "#008000", blue: "#0000ff", red: "#ff0000" };

const toXY = (arr) => arr.map(([x, y]) => ({ x, y }));

function pts(data, color, r) {
  return { data: toXY(data), pointRadius: r, pointHoverRadius: r, backgroundColor: color, borderWidth: 0, showLine: false };
}
function line(data, color, width, dash) {
  return { data: toXY(data), showLine: true, pointRadius: 0, borderColor: color, borderWidth: width, borderDash: dash || [], fill: false };
}

// draws plot frame, the zero axes and their tick marks
const frame = {
  id: "frame",
  beforeDatasetsDraw(chart, args, opts) {
    const { ctx, chartArea: a, scales: { x, y } } = chart;
    const x0 = x.getPixelForValue(0);
    const y0 = y.getPixelForValue(0);
    ctx.save();
    ctx.strokeStyle = "#000";
    ctx.lineWidth = 1;
    ctx.beginPath();
    ctx.moveTo(a.left, y0);
    ctx.lineTo(a.right, y0);
    x.ticks.forEach((t) => {
      const px = Math.round(x.getPixelForValue(t.value)) + 0.5;
      ctx.moveTo(px, y0);
      ctx.lineTo(px, y0 + 5);
    });
    ctx.stroke();
    ctx.strokeStyle = opts.yColor || "#595959";
    ctx.lineWidth = 1.6;
    ctx.beginPath();
    ctx.moveTo(x0, a.top);
    ctx.lineTo(x0, a.bottom);
    ctx.stroke();
    ctx.lineWidth = 1;
    ctx.beginPath();
    y.ticks.forEach((t) => {
      const py = Math.round(y.getPixelForValue(t.value)) + 0.5;
      ctx.moveTo(x0 - 5, py);
      ctx.lineTo(x0, py);
    });
    ctx.stroke();
    ctx.strokeStyle = "#a6a6a6";
    ctx.lineWidth = 2;
    ctx.strokeRect(a.left, a.top, a.width, a.height);
    ctx.restore();
  },
};

function makeChart(id, datasets, o) {
  new Chart(document.getElementById(id), {
    type: "scatter",
    data: { datasets },
    plugins: [frame],
    options: {
      responsive: false,
      animation: false,
      events: [],
      layout: { padding: o.padding },
      plugins: { legend: { display: false }, tooltip: { enabled: false }, frame: { yColor: o.yColor } },
      scales: {
        x: {
          type: "linear", min: o.min, max: o.max,
          grid: { display: false, drawTicks: false }, border: { display: false },
          afterBuildTicks: (s) => { s.ticks = o.ticks.map((v) => ({ value: v })); },
          afterFit: (s) => { s.height = o.xHeight; },
          ticks: { color: "#000", padding: o.xPad, maxRotation: 0, autoSkip: false,
                   font: { family: "Liberation Sans, Arial", size: o.font },
                   callback: (v, i) => o.xLabels[i] },
        },
        y: {
          type: "linear", min: o.min, max: o.max,
          grid: { display: false, drawTicks: false }, border: { display: false },
          afterBuildTicks: (s) => { s.ticks = o.ticks.map((v) => ({ value: v })); },
          afterFit: (s) => { s.width = o.yWidth; },
          ticks: { display: o.yLabels !== null, color: "#000", padding: 12, autoSkip: false,
                   font: { family: "Liberation Sans, Arial", size: o.font },
                   callback: (v, i) => (o.yLabels ? o.yLabels[i] : "") },
        },
      },
    },
  });
}

const abBase = { min: -0.2, max: 1.5, ticks: abTicks, xLabels: abTickLabels, font: 16.7, xHeight: 75, xPad: 16 };
const cdBase = { min: -0.002, max: 0.015, ticks: cdTicks, xLabels: cdXTickLabels, font: 16, xHeight: 66, xPad: 15 };
const R_AB = 2.0;
const R_CD = 1.7;

makeChart("chartA", [
  line(aFitRed, COL.red, 3),
  line(aFitBlue, COL.blue, 3),
  line(aFitGreen, COL.green, 3),
  line(aFitGray, COL.gray, 3),
  line(aFitOrange, COL.orange, 3),
  line(abOneToOne, "#000", 1.2, [5, 4]),
  pts(aGray, COL.gray, R_AB),
  pts(aOrange, COL.orange, R_AB),
  pts(aRed, COL.red, R_AB),
  pts(aBlue, COL.blue, R_AB),
  pts(aGreen, COL.green, R_AB),
], { ...abBase, padding: { top: 10, right: 4, left: 0, bottom: 0 }, yWidth: 77, yLabels: abTickLabels, yColor: "#595959" });

makeChart("chartB", [
  line(bFitRed, COL.red, 3),
  line(bFitGray, COL.gray, 3),
  line(bFitGreen, COL.green, 3),
  line(bFitBlue, COL.blue, 3),
  line(bFitOrange, COL.orange, 3),
  line(abOneToOne, "#000", 1.2, [5, 4]),
  pts(bRed, COL.red, R_AB),
  pts(bGray, COL.gray, R_AB),
  pts(bOrange, COL.orange, R_AB),
  pts(bBlue, COL.blue, R_AB),
  pts(bGreen, COL.green, R_AB),
], { ...abBase, padding: { top: 10, right: 6, left: 0, bottom: 0 }, yWidth: 5, yLabels: null, yColor: "#595959" });

makeChart("chartC", [
  line(cFit, "#000", 2.5),
  line(cdOneToOne, "#000", 1, [5, 4]),
  pts(cPoints, "#000", R_CD),
], { ...cdBase, padding: { top: 24, right: 4, left: 0, bottom: 0 }, yWidth: 93, yLabels: cdYTickLabels, yColor: "#595959" });

makeChart("chartD", [
  line(dFit, "#000", 2.5),
  line(cdOneToOne, "#000", 1, [5, 4]),
  pts(dPoints, "#000", R_CD),
], { ...cdBase, padding: { top: 24, right: 8, left: 0, bottom: 0 }, yWidth: 4, yLabels: null, yColor: "#000" });
</script>
</body>
</html>
